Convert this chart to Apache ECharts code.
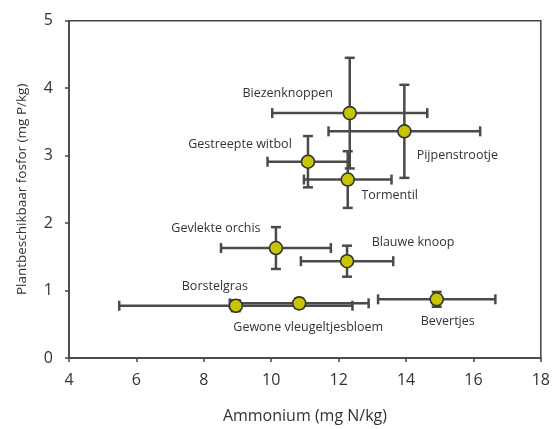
<!DOCTYPE html>
<html><head><meta charset="utf-8">
<script src="https://cdn.jsdelivr.net/npm/echarts@6/dist/echarts.min.js"></script>
<style>html,body{margin:0;padding:0;background:#fff}#c{width:553px;height:429px}</style>
</head><body><div id="c"></div>
<script>
const names = ['Biezenknoppen','Pijpenstrootje','Gestreepte witbol','Tormentil','Gevlekte orchis','Blauwe knoop','Borstelgras','Gewone vleugeltjesbloem','Bevertjes'];
const ammonium = [12.33, 13.95, 11.09, 12.27, 10.14, 12.25, 8.95, 10.83, 14.91];
const fosfor   = [3.63, 3.36, 2.91, 2.645, 1.63, 1.435, 0.775, 0.81, 0.87];
const errX     = [2.3, 2.25, 1.2, 1.3, 1.63, 1.37, 3.46, 2.06, 1.74];
const errY     = [0.82, 0.69, 0.38, 0.42, 0.31, 0.23, 0.08, 0.07, 0.11];
const xTicks = [4, 6, 8, 10, 12, 14, 16, 18];
const yTicks = [0, 1, 2, 3, 4, 5];
const labelOffsets = [[-62,-20],[53,24],[-68,-17],[42,16],[-60,-20],[66,-19],[-21,-19],[9,24],[11,22]];

const FONT = '"Open Sans", "Noto Sans", sans-serif';
const TXT = '#333';
const chart = echarts.init(document.getElementById('c'), null, {renderer:'canvas'});

const errData = names.map((n,i)=>[ammonium[i], fosfor[i], errX[i], errY[i]]);
const capHalf = 5;
function renderErr(params, api){
  const x = api.value(0), y = api.value(1), ex = api.value(2), ey = api.value(3);
  const c = api.coord([x,y]);
  const l = api.coord([x-ex,y]), r = api.coord([x+ex,y]);
  const t = api.coord([x,y+ey]), b = api.coord([x,y-ey]);
  const st = {stroke:'#4a4a4a', lineWidth:2.5};
  const lines = [
    [l[0],c[1],r[0],c[1]],
    [l[0],c[1]-capHalf,l[0],c[1]+capHalf],
    [r[0],c[1]-capHalf,r[0],c[1]+capHalf],
    [c[0],t[1],c[0],b[1]],
    [c[0]-capHalf,t[1],c[0]+capHalf,t[1]],
    [c[0]-capHalf,b[1],c[0]+capHalf,b[1]]
  ];
  return {type:'group', children: lines.map(p=>({type:'line', shape:{x1:p[0],y1:p[1],x2:p[2],y2:p[3]}, style:st}))};
}

chart.setOption({
  animation:false,
  grid:{left:69, right:10, top:20.7, bottom:68, show:true, borderColor:'#444', borderWidth:1.5, backgroundColor:'transparent'},
  xAxis:{type:'value', min:xTicks[0], max:xTicks[xTicks.length-1], interval:2,
    name:'Ammonium (mg N/kg)', nameLocation:'middle', nameGap:50,
    nameTextStyle:{fontFamily:FONT, fontSize:16, color:TXT},
    axisLine:{show:true, lineStyle:{color:'#444', width:1.5}},
    axisTick:{show:true, inside:false, length:4, lineStyle:{color:'#444', width:1.5}},
    axisLabel:{fontFamily:FONT, fontSize:16, color:TXT, margin:14},
    splitLine:{show:false}},
  yAxis:{type:'value', min:yTicks[0], max:yTicks[yTicks.length-1], interval:1,
    name:'Plantbeschikbaar fosfor (mg P/kg)', nameLocation:'middle', nameGap:40,
    nameTextStyle:{fontFamily:FONT, fontSize:13.5, color:TXT},
    axisLine:{show:true, lineStyle:{color:'#444', width:1.5}},
    axisTick:{show:true, inside:false, length:4, lineStyle:{color:'#444', width:1.5}},
    axisLabel:{fontFamily:FONT, fontSize:16, color:TXT, margin:16},
    splitLine:{show:false}},
  series:[
    {type:'custom', renderItem:renderErr, data:errData, z:2, encode:{x:0,y:1}},
    {type:'scatter', z:3, symbol:'circle', symbolSize:13,
     itemStyle:{color:'#c8c400', borderColor:'#333', borderWidth:1.6, opacity:1},
     data: names.map((n,i)=>({name:n, value:[ammonium[i], fosfor[i]],
       label:{show:true, position:'inside', offset:labelOffsets[i], formatter:n,
         fontFamily:FONT, fontSize:12.5, color:TXT}}))}
  ]
});
</script></body></html>
